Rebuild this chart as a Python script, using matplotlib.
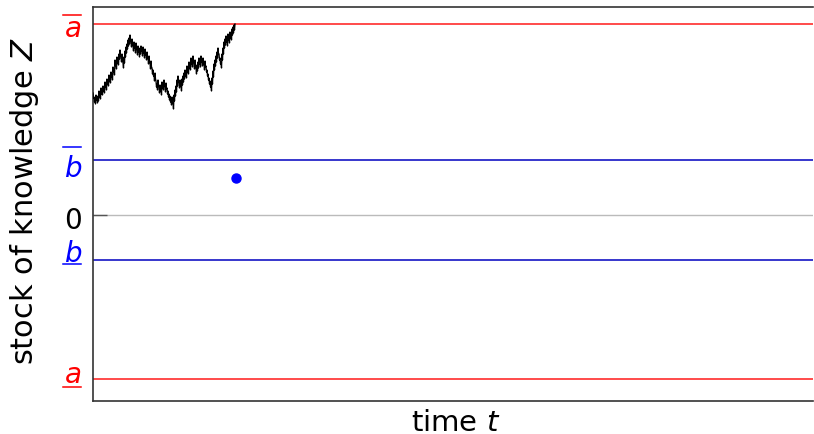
import numpy as np
import matplotlib
matplotlib.use("Agg")
import matplotlib.pyplot as plt
from matplotlib import transforms

plt.rcParams["font.family"] = ["DejaVu Sans"]
plt.rcParams["mathtext.fontset"] = "dejavusans"

# Stock of knowledge Z along the simulated path (arbitrary units, two samples per time unit)
knowledge = [
    122, 117, 118, 113, 116, 111, 120, 115, 117, 112, 119, 114, 124, 118, 121, 116,
    127, 121, 125, 120, 129, 124, 128, 122, 133, 128, 131, 125, 136, 131, 135, 129,
    140, 134, 137, 132, 143, 138, 141, 135, 148, 143, 146, 140, 155, 149, 151, 146,
    158, 152, 156, 150, 161, 156, 165, 159, 158, 153, 161, 155, 152, 147, 158, 152,
    164, 158, 168, 162, 171, 166, 175, 169, 177, 171, 180, 174, 173, 168, 176, 170,
    170, 164, 173, 167, 168, 162, 172, 166, 165, 160, 169, 163, 164, 158, 167, 161,
    169, 164, 165, 159, 168, 162, 163, 157, 166, 160, 161, 155, 163, 157, 157, 151,
    159, 153, 152, 146, 154, 148, 147, 141, 145, 139, 140, 134, 142, 136, 134, 128,
    131, 125, 135, 129, 128, 122, 130, 124, 126, 120, 133, 127, 131, 125, 135, 129,
    129, 123, 132, 126, 127, 121, 124, 118, 121, 115, 119, 113, 116, 110, 118, 112,
    112, 106, 120, 114, 125, 119, 129, 123, 135, 129, 139, 133, 133, 127, 135, 129,
    130, 124, 136, 130, 139, 133, 142, 136, 145, 139, 143, 137, 149, 143, 147, 141,
    153, 147, 151, 145, 157, 151, 154, 148, 159, 153, 152, 146, 155, 149, 147, 141,
    150, 144, 153, 147, 157, 151, 154, 148, 159, 153, 155, 149, 157, 151, 151, 145,
    154, 148, 149, 143, 145, 139, 141, 135, 137, 131, 134, 128, 130, 124, 137, 131,
    144, 138, 151, 145, 155, 149, 159, 153, 163, 157, 167, 161, 161, 155, 157, 151,
    153, 147, 161, 155, 167, 161, 173, 167, 176, 170, 179, 173, 175, 169, 181, 175,
    178, 172, 183, 177, 181, 175, 186, 180, 188, 182, 190, 185, 191,
]

# Thresholds
a_upper = 191
b_upper = 55
b_lower = -45
a_lower = -164

# Signal observed when the path hits the upper threshold
signal_time = 143
signal_value = 37

t_max = 720
z_min, z_max = -186, 208

DPI = 100
W, H = 814, 435
fig = plt.figure(figsize=(W / DPI, H / DPI), dpi=DPI)
ax = fig.add_axes([93 / W, 33 / H, 720 / W, 394 / H])
ax.set_xlim(0, t_max)
ax.set_ylim(z_min, z_max)

ax.axhline(0, color="#bbbbbb", lw=1.0, zorder=1)
ax.axhline(a_upper, color="#ff1a1a", lw=1.1, zorder=2)
ax.axhline(a_lower, color="#ff1a1a", lw=1.1, zorder=2)
ax.axhline(b_upper, color="#0000c0", lw=1.1, zorder=2)
ax.axhline(b_lower, color="#0000c0", lw=1.1, zorder=2)

time = np.arange(len(knowledge)) * 0.5
ax.plot(time, knowledge, color="black", lw=0.95, zorder=3)
ax.plot([signal_time], [signal_value], "o", color="blue", ms=6.5, zorder=4)

ax.set_xticks([])
ax.set_yticks([0])
ax.set_yticklabels([""])
ax.tick_params(axis="y", direction="in", length=10, width=1.0, color="#555555")
ax.spines["right"].set_visible(False)
for side in ("left", "top", "bottom"):
    ax.spines[side].set_color("#333333")
    ax.spines[side].set_linewidth(1.2)

base = transforms.blended_transform_factory(ax.transAxes, ax.transData)


def px_x(px):
    return (px - 93) / 720


def shifted(dy_px):
    return base + transforms.ScaledTranslation(0, -dy_px / DPI, fig.dpi_scale_trans)


def level_label(y, text, color, base_dy, bar_dy=None):
    ax.text(px_x(73), y, text, color=color, fontsize=20, ha="center",
            va="baseline", transform=shifted(base_dy), clip_on=False)
    if bar_dy is not None:
        ax.plot([px_x(63), px_x(81)], [y, y], color=color, lw=1.1,
                transform=shifted(bar_dy), clip_on=False)


level_label(a_upper, r"$a$", "red", 12, -9)
level_label(b_upper, r"$b$", "blue", 16, -13)
level_label(0, "0", "black", 13)
level_label(b_lower, r"$b$", "blue", 1, 4)
level_label(a_lower, r"$a$", "red", 3, 8)

fig.text(25 / W, 1 - 201 / H, r"stock of knowledge $Z$", rotation=90,
         ha="center", va="center", fontsize=22)
fig.text(456 / W, 4 / H, r"time $t$", ha="center", va="baseline", fontsize=21)

fig.savefig("out.png", dpi=DPI)
